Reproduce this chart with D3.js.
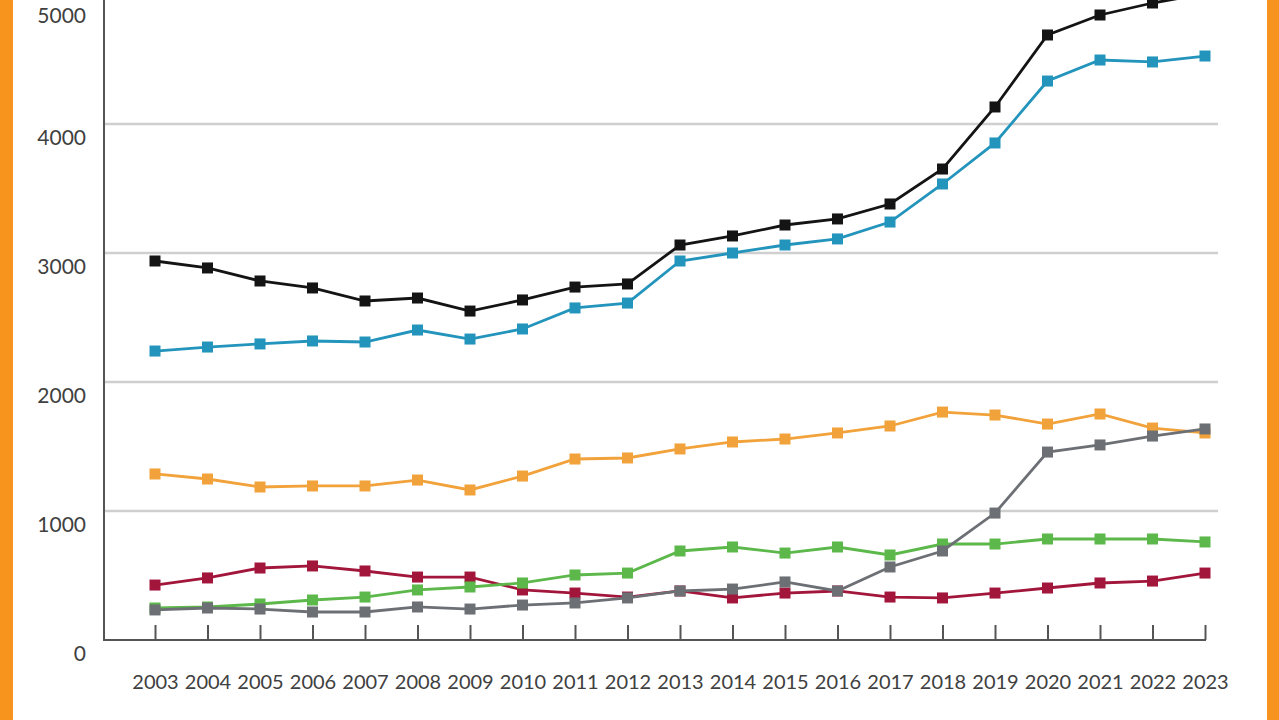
<!DOCTYPE html>
<html><head><meta charset="utf-8">
<script src="https://cdn.jsdelivr.net/npm/d3@7"></script>
<style>body{margin:0;background:#fff;overflow:hidden}svg{display:block}</style>
</head><body>
<svg id="c" width="1279" height="720"></svg>
<script>
const years = [2003,2004,2005,2006,2007,2008,2009,2010,2011,2012,2013,2014,2015,2016,2017,2018,2019,2020,2021,2022,2023];
const yTicks = [0,1000,2000,3000,4000,5000];
const seriesBlack  = [2938,2884,2783,2729,2628,2651,2550,2636,2736,2760,3062,3132,3217,3264,3380,3651,4132,4690,4845,4938,5010];
const seriesBlue   = [2240,2271,2295,2318,2310,2403,2333,2411,2574,2612,2938,3000,3062,3109,3240,3535,3853,4333,4496,4481,4527];
const seriesOrange = [1287,1248,1186,1194,1194,1240,1163,1271,1403,1411,1481,1535,1558,1605,1659,1767,1744,1674,1752,1643,1605];
const seriesRed    = [426,481,558,574,535,488,488,388,364,333,380,326,364,380,333,326,364,403,442,457,519];
const seriesGreen  = [248,256,279,310,333,388,411,442,504,519,690,721,674,721,659,744,744,783,783,783,760];
const seriesGrey   = [233,248,240,217,217,256,240,271,287,326,380,395,450,380,566,690,984,1457,1512,1581,1636];

const series = [
  {v: seriesBlack,  c: "#141414"},
  {v: seriesBlue,   c: "#2394bb"},
  {v: seriesOrange, c: "#f2a23a"},
  {v: seriesRed,    c: "#a3163c"},
  {v: seriesGreen,  c: "#5cb84a"},
  {v: seriesGrey,   c: "#6c7075"}
];

const svg = d3.select("#c");
// orange frame
svg.append("rect").attr("x",0).attr("y",0).attr("width",13).attr("height",720).attr("fill","#f7941d");
svg.append("rect").attr("x",1267).attr("y",0).attr("width",12).attr("height",720).attr("fill","#f7941d");

const x = d3.scalePoint().domain(years).range([155,1205]);
const y = d3.scaleLinear().domain([0,5000]).range([640,-5]);

// gridlines
svg.append("g").selectAll("line").data(yTicks.filter(t=>t>0 && t<5000)).join("line")
  .attr("x1",104).attr("x2",1218).attr("y1",d=>y(d)).attr("y2",d=>y(d))
  .attr("stroke","#cfcfcf").attr("stroke-width",2.5);

// y labels
svg.append("g").selectAll("text").data(yTicks).join("text")
  .attr("x",86).attr("y",d=>Math.max(y(d)+12, 14)).attr("text-anchor","end")
  .attr("dominant-baseline","central")
  .attr("font-family","Lato, 'Open Sans', sans-serif").attr("font-size",21).attr("fill","#404040")
  .text(d=>d);

// x axis
const xa = svg.append("g").attr("transform","translate(0,640)")
  .call(d3.axisBottom(x).tickSize(-15).tickPadding(35).tickFormat(d=>d));
xa.select(".domain").attr("d","M104,0H1206").attr("stroke","#555").attr("stroke-width",2);
xa.selectAll(".tick line").attr("stroke","#555").attr("stroke-width",2);
xa.selectAll(".tick text").attr("font-family","Lato, 'Open Sans', sans-serif").attr("font-size",20).attr("fill","#404040");

// y axis line
svg.append("line").attr("x1",104).attr("x2",104).attr("y1",0).attr("y2",641).attr("stroke","#555").attr("stroke-width",2);

const line = d3.line().x((d,i)=>x(years[i])).y(d=>y(d));
const g = svg.append("g");
series.forEach(s=>{
  g.append("path").attr("d",line(s.v)).attr("fill","none").attr("stroke",s.c).attr("stroke-width",2.8);
  g.append("g").selectAll("rect").data(s.v).join("rect")
    .attr("x",(d,i)=>x(years[i])-5.5).attr("y",d=>y(d)-5.5).attr("width",11).attr("height",11)
    .attr("fill",s.c);
});
</script>
</body></html>
